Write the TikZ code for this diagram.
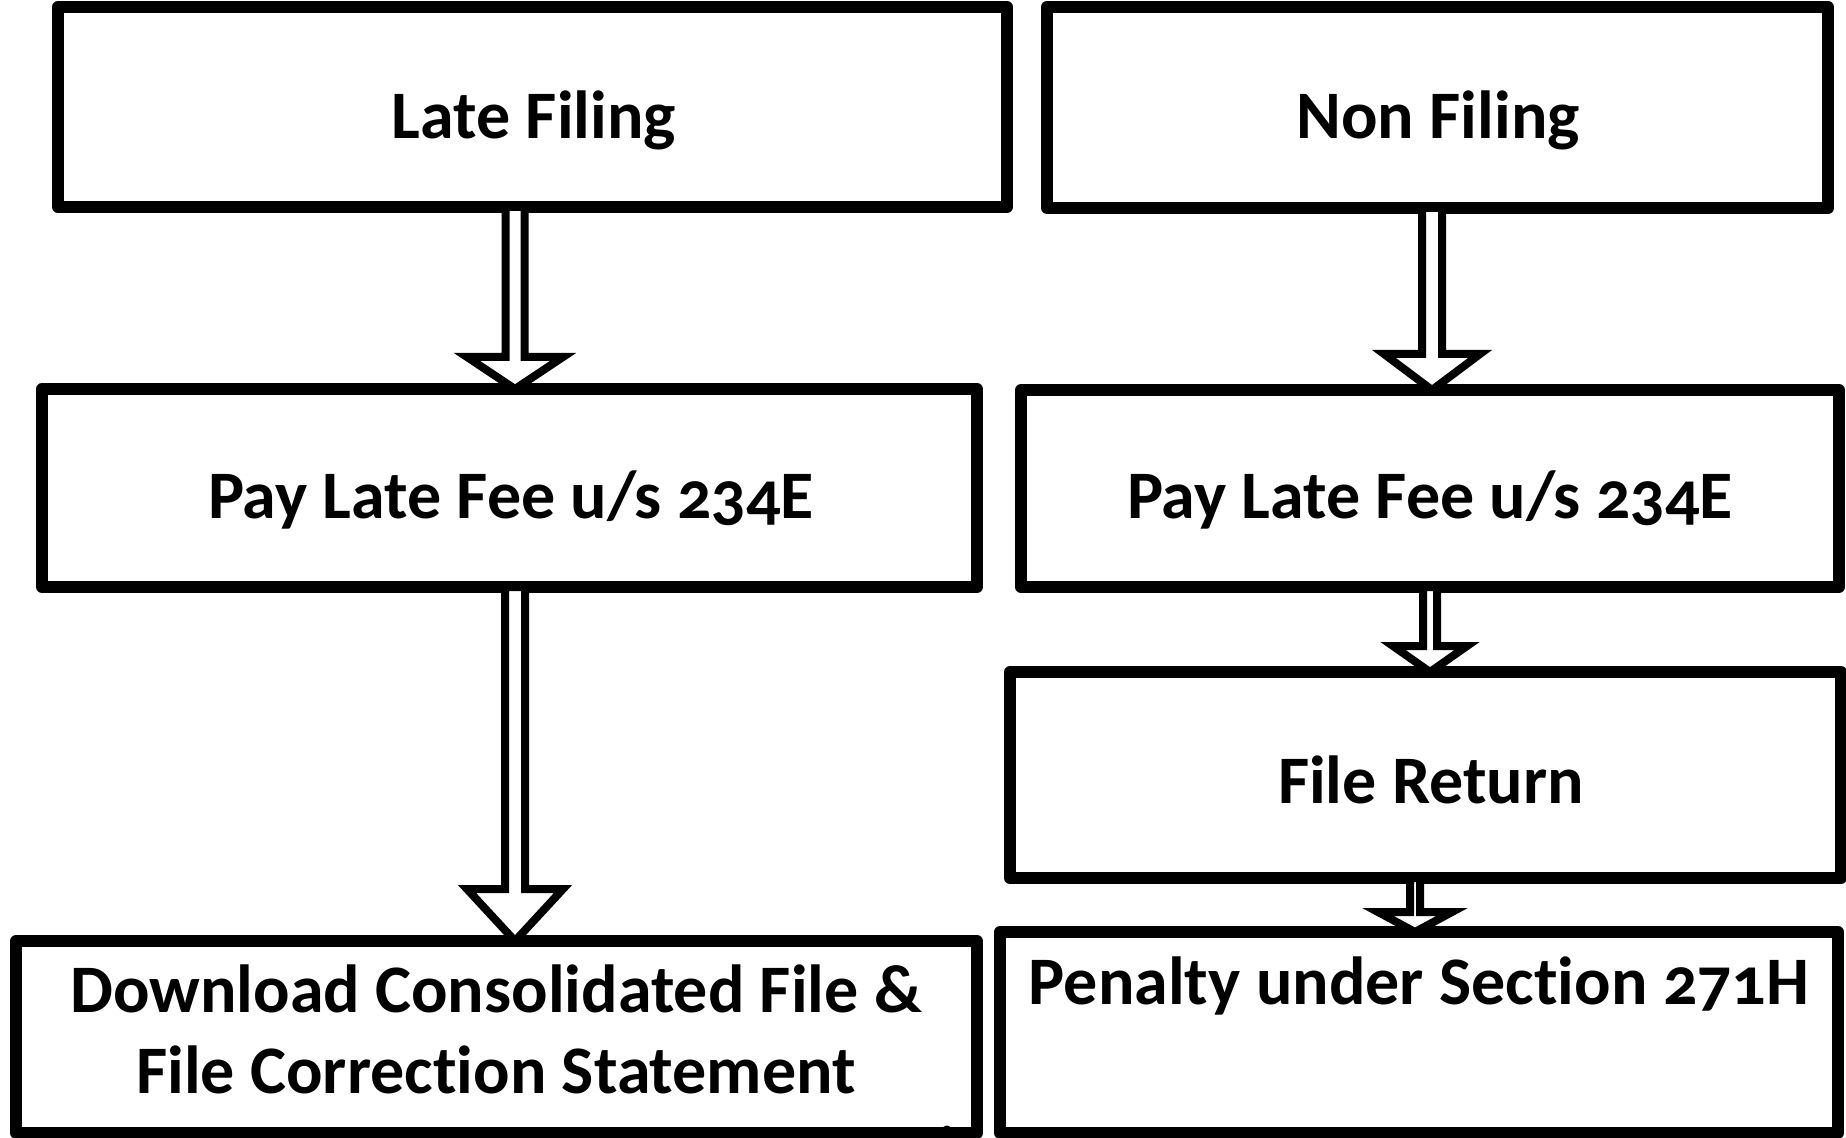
\documentclass[tikz,border=0pt]{standalone}
\usepackage{fontspec}
\setmainfont{Carlito}[Numbers=OldStyle, Ligatures=NoCommon]
\usetikzlibrary{calc,fit}

\tikzset{
  box/.style={draw=black, line width=6pt, line join=round, fill=white,
              rectangle, inner sep=0pt, outer sep=0pt},
  lbl/.style={font=\fontsize{34}{40}\selectfont\bfseries, anchor=base, inner sep=0pt},
  blockarrow/.style={draw=black, fill=white, line width=4pt, line join=miter},
}

% hollow block arrow: #1 x reference, #2 source node anchor, #3 target node anchor,
% #4 shaft half width, #5 head half width, #6 head length (all in px units)
\newcommand\hollowarrow[6]{%
  \draw[blockarrow] let \p1=(#1 |- #2), \p2=(#1 |- #3),
    \n1={#4*0.5pt}, \n2={#5*0.5pt}, \n3={#6*0.5pt} in
    (\x1-\n1,\y1) -- (\x1-\n1,\y2+\n3) -- (\x1-\n2,\y2+\n3) -- (\x2,\y2)
    -- (\x1+\n2,\y2+\n3) -- (\x1+\n1,\y2+\n3) -- (\x1+\n1,\y1) -- cycle;}

\begin{document}
\begin{tikzpicture}[x=0.5pt, y=-0.5pt]
  \useasboundingbox (0,0) rectangle (1846,1138);
  \fill[white] (0,0) rectangle (1846,1138);

  % boxes
  \node[box, fit={(58,7) (1007,207)}]      (late)   {};
  \node[box, fit={(1047,7) (1828,208)}]    (non)    {};
  \node[box, fit={(42,389) (977,587)}]     (feeL)   {};
  \node[box, fit={(1021,390) (1839,587)}]  (feeR)   {};
  \node[box, fit={(1010,672) (1841,878)}]  (ret)    {};
  \node[box, fit={(16,941) (977,1133)}]    (dl)     {};
  \node[box, fit={(1000,932) (1838,1133)}] (pen)    {};

  % labels
  \node[lbl] (lateT) at (534,139)  {Late Filing};
  \node[lbl] (nonT)  at (1438,139) {Non Filing};
  \node[lbl] (feeLT) at (511,519)  {Pay Late Fee u/s 234E};
  \node[lbl] (feeRT) at (1430,519) {Pay Late Fee u/s 234E};
  \node[lbl] (retT)  at (1431,803) {File Return};
  \node[lbl] (dlT1)  at (496,1012) {Download Consolidated File \&};
  \node[lbl] (dlT2)  at (496,1093) {File Correction Statement};
  \node[lbl] (penT)  at (1419,1004) {Penalty under Section 271H};
  \node[font=\fontsize{12}{14}\selectfont, anchor=north, inner sep=0pt] (pg) at (947,1126) {8};

  % arrow axes
  \coordinate (x1) at (515,0);
  \coordinate (x2) at (1432,0);
  \coordinate (x3) at (1430,0);
  \coordinate (x4) at (1415,0);

  % connectors
  \hollowarrow{x1}{late.south}{feeL.north}{9.5}{48}{32}
  \hollowarrow{x2}{non.south}{feeR.north}{10}{48}{36}
  \hollowarrow{x3}{feeR.south}{ret.north}{7}{37}{26}
  \hollowarrow{x4}{ret.south}{pen.north}{5}{37}{20}
  \hollowarrow{x1}{feeL.south}{dl.north}{10}{48}{52}
\end{tikzpicture}
\end{document}
